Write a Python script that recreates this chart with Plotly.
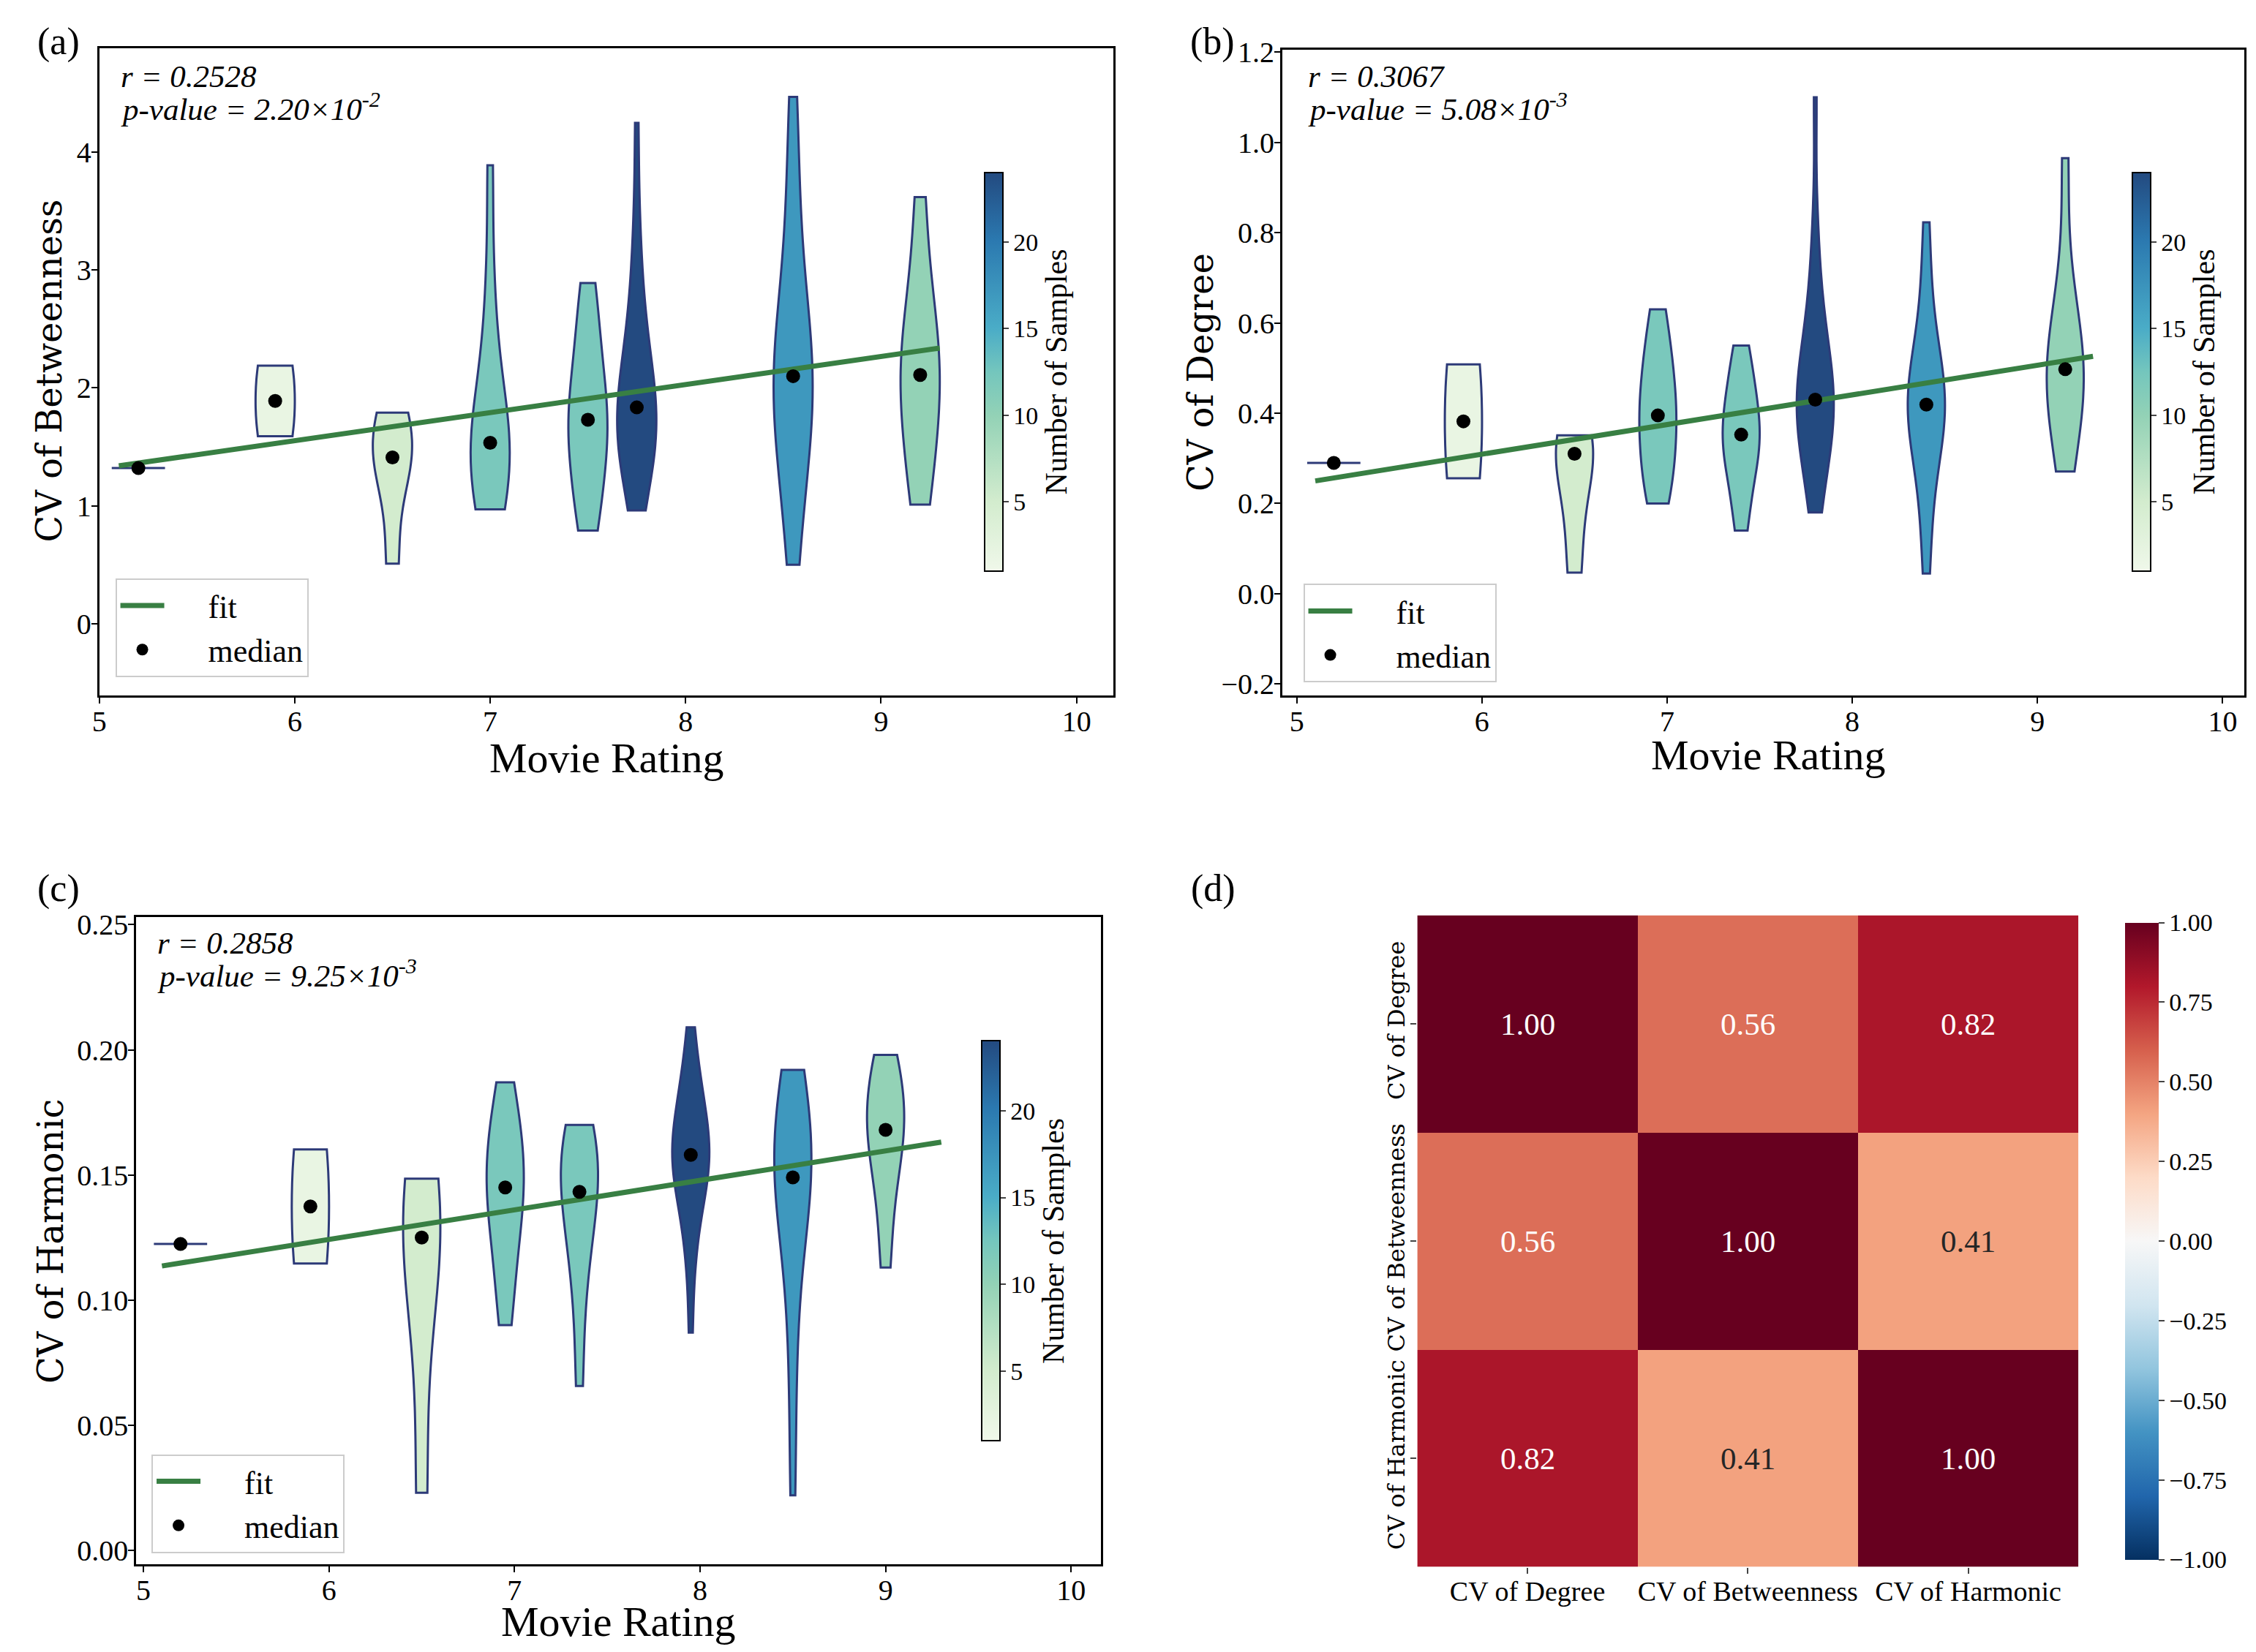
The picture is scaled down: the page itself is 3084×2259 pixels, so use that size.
import numpy as np
import plotly.graph_objects as go
from plotly.colors import find_intermediate_color, hex_to_rgb

# ---- data ----
ratings_a = [5.2, 5.9, 6.5, 7.0, 7.5, 7.75, 8.55, 9.2]
ratings_b = [5.2, 5.9, 6.5, 6.95, 7.4, 7.8, 8.4, 9.15]
ratings_c = [5.2, 5.9, 6.5, 6.95, 7.35, 7.95, 8.5, 9.0]

cv_betweenness = [
    [1.32],
    [1.59, 2.19],
    [0.51, 1.30, 1.41, 1.60, 1.79],
    [0.97, 1.05, 1.20, 1.32, 1.42, 1.50, 1.57, 1.72, 1.90, 2.30, 2.85, 3.89],
    [0.79, 0.95, 1.20, 1.40, 1.55, 1.70, 1.76, 1.90, 2.10, 2.35, 2.60, 2.89],
    [0.96, 1.10, 1.20, 1.30, 1.40, 1.50, 1.55, 1.60, 1.65, 1.70, 1.75, 1.80,
     1.87, 1.92, 2.00, 2.10, 2.20, 2.30, 2.45, 2.60, 2.80, 3.10, 3.50, 4.25],
    [0.50, 0.90, 1.20, 1.45, 1.60, 1.75, 1.90, 2.00, 2.10, 2.20, 2.35, 2.50,
     2.70, 3.00, 3.40, 3.90, 4.47],
    [1.01, 1.30, 1.60, 1.85, 2.05, 2.17, 2.35, 2.60, 2.95, 3.62],
]
cv_degree = [
    [0.29],
    [0.256, 0.508],
    [0.047, 0.20, 0.31, 0.33, 0.351],
    [0.20, 0.23, 0.27, 0.31, 0.35, 0.38, 0.41, 0.44, 0.48, 0.52, 0.57, 0.63],
    [0.14, 0.20, 0.26, 0.30, 0.32, 0.34, 0.365, 0.39, 0.42, 0.46, 0.50, 0.55],
    [0.18, 0.22, 0.26, 0.29, 0.32, 0.34, 0.36, 0.38, 0.40, 0.41, 0.42, 0.425,
     0.435, 0.45, 0.47, 0.49, 0.51, 0.54, 0.57, 0.60, 0.65, 0.72, 0.82, 1.10],
    [0.045, 0.15, 0.24, 0.30, 0.34, 0.37, 0.39, 0.405, 0.419, 0.43, 0.45, 0.47,
     0.50, 0.54, 0.60, 0.70, 0.823],
    [0.271, 0.35, 0.41, 0.45, 0.49, 0.505, 0.54, 0.59, 0.70, 0.965],
]
cv_harmonic = [
    [0.1224],
    [0.1146, 0.1602],
    [0.023, 0.105, 0.125, 0.138, 0.1485],
    [0.090, 0.105, 0.118, 0.128, 0.136, 0.142, 0.148, 0.154, 0.160, 0.167, 0.176, 0.187],
    [0.0657, 0.095, 0.115, 0.125, 0.133, 0.140, 0.1465, 0.152, 0.157, 0.162, 0.166, 0.170],
    [0.087, 0.110, 0.122, 0.130, 0.136, 0.141, 0.145, 0.148, 0.151, 0.153, 0.155, 0.157,
     0.159, 0.161, 0.164, 0.167, 0.170, 0.173, 0.176, 0.180, 0.185, 0.190, 0.198, 0.209],
    [0.022, 0.060, 0.090, 0.110, 0.125, 0.135, 0.140, 0.145, 0.149, 0.153, 0.158, 0.163,
     0.168, 0.174, 0.180, 0.186, 0.192],
    [0.113, 0.135, 0.150, 0.160, 0.166, 0.170, 0.177, 0.184, 0.191, 0.198],
]

# fit lines (slope, intercept) and stats
fit_a = (0.238, 0.125)
fit_b = (0.0657, -0.085)
fit_c = (0.01179, 0.0535)
fit_span = [5.1, 9.3]
stats_a = ("0.2528", "2.20", "-2")
stats_b = ("0.3067", "5.08", "-3")
stats_c = ("0.2858", "9.25", "-3")

corr_labels = ["CV of Degree", "CV of Betweenness", "CV of Harmonic"]
corr_values = [[1.00, 0.56, 0.82],
               [0.56, 1.00, 0.41],
               [0.82, 0.41, 1.00]]

# ---- styles ----
SERIF = "Liberation Serif"
DVS = "DejaVu Serif"
EDGE = "#2d3a78"
FIT = "#387f43"
count_scale = [[0.0, "#f0f8ea"], [0.174, "#d3ecce"], [0.39, "#93d2b6"],
               [0.5, "#74c6bd"], [0.61, "#4aacc7"], [0.83, "#2b79b0"], [1.0, "#234a80"]]
rdbu_r = [[0.0, "#053061"], [0.1, "#2166ac"], [0.2, "#4393c3"], [0.3, "#92c5de"],
          [0.4, "#d1e5f0"], [0.5, "#f7f7f7"], [0.6, "#fddbc7"], [0.7, "#f4a582"],
          [0.8, "#d6604d"], [0.9, "#b2182b"], [1.0, "#67001f"]]

fig = go.Figure()


def color_for(n):
    t = (n - 1) / 23.0
    for (t0, c0), (t1, c1) in zip(count_scale[:-1], count_scale[1:]):
        if t0 <= t <= t1:
            f = (t - t0) / (t1 - t0)
            rgb = find_intermediate_color(hex_to_rgb(c0), hex_to_rgb(c1), f)
            return "rgb(%d,%d,%d)" % tuple(int(round(v)) for v in rgb)
    return count_scale[-1][1]


def add_violin_panel(xa, ya, ratings, groups, fit, legend, cbar):
    medians = [float(np.median(g)) for g in groups]
    for pos, vals in zip(ratings, groups):
        if len(vals) == 1:
            fig.add_trace(go.Scatter(
                x=[pos], y=vals, mode="markers", xaxis=xa, yaxis=ya, showlegend=False,
                marker=dict(symbol="line-ew", size=52, line=dict(color=EDGE, width=3))))
            continue
        bw = float(np.std(vals, ddof=1)) * len(vals) ** -0.2
        fig.add_trace(go.Violin(
            x=[pos] * len(vals), y=vals, xaxis=xa, yaxis=ya, width=0.2,
            spanmode="hard", bandwidth=bw, scalemode="width", points=False,
            fillcolor=color_for(len(vals)), opacity=1,
            line=dict(color=EDGE, width=3), showlegend=False, hoverinfo="skip"))
    # colour bar for number of samples (no visible marks)
    fig.add_trace(go.Scatter(
        x=[None, None], y=[None, None], mode="markers", xaxis=xa, yaxis=ya,
        showlegend=False, hoverinfo="skip",
        marker=dict(color=[1, 24], cmin=1, cmax=24, colorscale=count_scale,
                    showscale=True, colorbar=cbar)))
    fx = np.array(fit_span)
    pad = "&nbsp;" * 5
    fig.add_trace(go.Scatter(
        x=fx, y=fit[0] * fx + fit[1], mode="lines", name=pad + "fit",
        xaxis=xa, yaxis=ya, line=dict(color=FIT, width=7), legend=legend))
    fig.add_trace(go.Scatter(
        x=ratings, y=medians, mode="markers", name=pad + "median",
        xaxis=xa, yaxis=ya,
        marker=dict(color="black", size=19, line=dict(width=0)), legend=legend))


def cbar_at(x, y0, y1):
    return dict(x=x, xanchor="left", y=y0, yanchor="bottom", len=y1 - y0, lenmode="fraction",
                thickness=25, outlinewidth=2, outlinecolor="black",
                ticks="outside", ticklen=7, tickwidth=2, tickvals=[5, 10, 15, 20],
                tickfont=dict(family=SERIF, size=34),
                title=dict(text="Number of Samples", side="right",
                           font=dict(family=SERIF, size=42)))


add_violin_panel("x", "y", ratings_a, cv_betweenness, fit_a, "legend",
                 cbar_at(0.4313, 0.6543, 0.9075))
add_violin_panel("x2", "y2", ratings_b, cv_degree, fit_b, "legend2",
                 cbar_at(0.9417, 0.6543, 0.9075))
add_violin_panel("x3", "y3", ratings_c, cv_harmonic, fit_c, "legend3",
                 cbar_at(0.4301, 0.1216, 0.3753))

fig.add_trace(go.Heatmap(
    z=corr_values, x=corr_labels, y=corr_labels, xaxis="x4", yaxis="y4",
    zmin=-1, zmax=1, colorscale=rdbu_r, hoverinfo="skip",
    colorbar=dict(x=0.9384, xanchor="left", y=0.049, yanchor="bottom", len=0.399,
                  lenmode="fraction", thickness=46, outlinewidth=0,
                  ticks="outside", ticklen=8, tickwidth=2,
                  tickvals=[-1, -0.75, -0.5, -0.25, 0, 0.25, 0.5, 0.75, 1],
                  tickformat=".2f", tickfont=dict(family=SERIF, size=34))))

annotations = []
for i, row in enumerate(corr_values):
    for j, v in enumerate(row):
        annotations.append(dict(
            x=corr_labels[j], y=corr_labels[i], xref="x4", yref="y4", text="%.2f" % v,
            showarrow=False, font=dict(family=SERIF, size=43,
                                       color="white" if v > 0.5 else "#262626")))

for (x, y, st) in [(0.0497, 0.9615, stats_a), (0.5776, 0.9615, stats_b),
                   (0.066, 0.431, stats_c)]:
    annotations.append(dict(x=x, y=y, xref="paper", yref="paper", xanchor="left",
                            yanchor="middle", showarrow=False,
                            text="<i>r = %s</i>" % st[0],
                            font=dict(family=SERIF, size=43)))
    annotations.append(dict(x=x, y=y - 0.0185, xref="paper", yref="paper", xanchor="left",
                            yanchor="middle", showarrow=False,
                            text="<i>p-value = %s×10<sup>%s</sup></i>" % (st[1], st[2]),
                            font=dict(family=SERIF, size=43)))

for (x, y, lab) in [(0.0126, 0.983, "(a)"), (0.5255, 0.983, "(b)"),
                    (0.0126, 0.4646, "(c)"), (0.5256, 0.4646, "(d)")]:
    annotations.append(dict(x=x, y=y, xref="paper", yref="paper", xanchor="left",
                            yanchor="middle", showarrow=False, text=lab,
                            font=dict(family=SERIF, size=52)))

# axis titles placed as paper annotations
for (x, y, t) in [(0.2667, 0.5445, "Movie Rating"), (0.7833, 0.546, "Movie Rating"),
                  (0.2718, 0.0155, "Movie Rating")]:
    annotations.append(dict(x=x, y=y, xref="paper", yref="paper", showarrow=False,
                            xanchor="center", yanchor="middle", text=t,
                            font=dict(family=SERIF, size=58)))
for (x, y, t) in [(0.0186, 0.7813, "CV of Betweenness"), (0.5308, 0.7804, "CV of Degree"),
                  (0.0192, 0.2485, "CV of Harmonic")]:
    annotations.append(dict(x=x, y=y, xref="paper", yref="paper", showarrow=False,
                            xanchor="center", yanchor="middle", text=t, textangle=-90,
                            font=dict(family=DVS, size=48)))

frame = dict(showline=True, linecolor="black", linewidth=3, mirror=True, ticks="outside",
             ticklen=8, tickwidth=2, tickcolor="black", showgrid=False, zeroline=False,
             tickfont=dict(family=SERIF, size=40))


def xax(domain, rng, anchor):
    return dict(frame, domain=domain, range=rng, anchor=anchor, dtick=1, tick0=5,
                ticklabelstandoff=-10)


def yax(domain, rng, anchor, dtick, fmt):
    return dict(frame, domain=domain, range=rng, anchor=anchor, dtick=dtick, tick0=0,
                tickformat=fmt, ticklabelstandoff=-8)


def legend_at(x, y):
    return dict(x=x, y=y, xanchor="left", yanchor="top", bgcolor="white",
                bordercolor="#cccccc", borderwidth=2, font=dict(family=SERIF, size=44),
                itemwidth=60)


fig.update_layout(
    width=3084, height=2259, paper_bgcolor="white", plot_bgcolor="white",
    margin=dict(l=0, r=0, t=0, b=0), font=dict(family=SERIF, color="black"),
    xaxis=xax([0.0409, 0.492], [5.0, 10.19], "y"),
    yaxis=yax([0.5827, 0.9788], [-0.608, 4.88], "x", 1, "d"),
    xaxis2=xax([0.567, 0.9948], [4.922, 10.117], "y2"),
    yaxis2=yax([0.5827, 0.978], [-0.225, 1.205], "x2", 0.2, ".1f"),
    xaxis3=xax([0.0573, 0.4863], [4.961, 10.16], "y3"),
    yaxis3=yax([0.0507, 0.447], [-0.0055, 0.2531], "x3", 0.05, ".2f"),
    xaxis4=dict(domain=[0.627, 0.921], anchor="y4", ticks="outside", ticklen=8, tickwidth=2,
                showgrid=False, zeroline=False, tickfont=dict(family=SERIF, size=38),
                ticklabelstandoff=-8),
    yaxis4=dict(domain=[0.049, 0.448], anchor="x4", autorange="reversed", ticks="outside",
                ticklen=8, tickwidth=2, showgrid=False, zeroline=False, tickangle=-90,
                tickfont=dict(family=DVS, size=32), ticklabelstandoff=-4),
    legend=legend_at(0.048, 0.6543),
    legend2=legend_at(0.5763, 0.651),
    legend3=legend_at(0.0641, 0.118),
    annotations=annotations,
    violinmode="overlay",
)

fig.write_html("out.html", config={"displayModeBar": False},
               post_script="document.body.style.margin='0px';"
                           "document.body.style.overflow='hidden';")
